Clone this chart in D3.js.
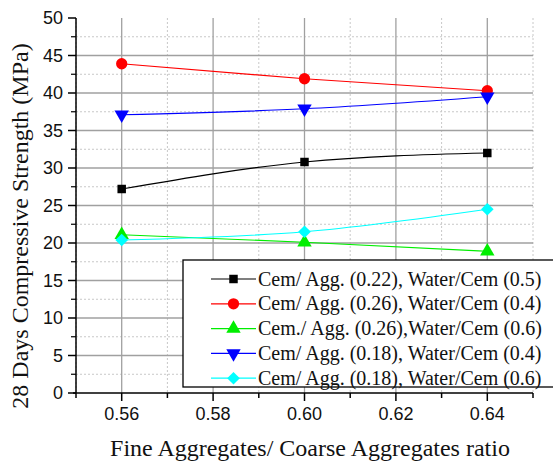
<!DOCTYPE html>
<html><head><meta charset="utf-8">
<script src="https://cdn.jsdelivr.net/npm/d3@7"></script>
<style>body{margin:0;background:#fff}svg{display:block}
.serif{font-family:"Liberation Serif","Times New Roman",serif}
.sans{font-family:"Liberation Sans",Arial,sans-serif}
</style>
</head><body>
<svg id="c" width="553" height="462"></svg>
<script>
const xValues = [0.56, 0.60, 0.64];
const seriesNames = [
  "Cem/ Agg. (0.22), Water/Cem (0.5)",
  "Cem/ Agg. (0.26), Water/Cem (0.4)",
  "Cem./ Agg. (0.26),Water/Cem (0.6)",
  "Cem/ Agg. (0.18), Water/Cem (0.4)",
  "Cem/ Agg. (0.18), Water/Cem (0.6)"
];
const blackVals = [27.2, 30.8, 32.0];
const redVals   = [43.9, 41.9, 40.3];
const greenVals = [21.1, 20.1, 18.9];
const blueVals  = [37.1, 37.9, 39.5];
const cyanVals  = [20.4, 21.5, 24.5];
const seriesColors = ["#000000", "#ff0000", "#00ee00", "#0000ff", "#00ffff"];
const seriesSymbols = ["square", "circle", "triUp", "triDown", "diamond"];
const xTicks = [0.56, 0.58, 0.60, 0.62, 0.64];
const yTicks = [0, 5, 10, 15, 20, 25, 30, 35, 40, 45, 50];

const allVals = [blackVals, redVals, greenVals, blueVals, cyanVals];
const svg = d3.select("#c");
const L = 76, R = 533, T = 18, B = 393;
const x = d3.scaleLinear().domain([0.55, 0.65]).range([L, R]);
const y = d3.scaleLinear().domain([0, 50]).range([B, T]);

// grid
const g = svg.append("g");
const minorX = d3.range(0.55, 0.6501, 0.01).filter(v => Math.abs(Math.round(v*100) % 2) === 1);
const minorY = d3.range(2.5, 50, 5);
g.selectAll(".mx").data(minorX).join("line")
  .attr("x1", d => x(d)).attr("x2", d => x(d)).attr("y1", T).attr("y2", B)
  .attr("stroke", "#c8c8c8").attr("stroke-dasharray", "2,2").attr("stroke-width", 1);
g.selectAll(".my").data(minorY).join("line")
  .attr("x1", L).attr("x2", R).attr("y1", d => y(d)).attr("y2", d => y(d))
  .attr("stroke", "#c8c8c8").attr("stroke-dasharray", "2,2").attr("stroke-width", 1);
g.selectAll(".gx").data(xTicks).join("line")
  .attr("x1", d => x(d)).attr("x2", d => x(d)).attr("y1", T).attr("y2", B)
  .attr("stroke", "#a0a0a0").attr("stroke-width", 1.3);
g.selectAll(".gy").data(yTicks.filter(v => v > 0 && v < 50)).join("line")
  .attr("x1", L).attr("x2", R).attr("y1", d => y(d)).attr("y2", d => y(d))
  .attr("stroke", "#a0a0a0").attr("stroke-width", 1.3);

// series lines
const line = d3.line().x(d => x(d[0])).y(d => y(d[1])).curve(d3.curveMonotoneX);
const sym = {
  square: d3.symbol().type(d3.symbolSquare).size(72),
  circle: d3.symbol().type(d3.symbolCircle).size(100),
  triUp: d3.symbol().type(d3.symbolTriangle).size(90),
  triDown: d3.symbol().type(d3.symbolTriangle).size(90),
  diamond: d3.symbol().type(d3.symbolSquare).size(80)
};
function drawMarker(sel, name, cx, cy, color) {
  const rot = name === "triDown" ? " rotate(180)" : name === "diamond" ? " rotate(45)" : "";
  sel.append("path").attr("d", sym[name]())
    .attr("transform", `translate(${cx},${cy})` + rot)
    .attr("fill", color);
}
allVals.forEach((vals, i) => {
  const pts = xValues.map((xv, j) => [xv, vals[j]]);
  svg.append("path").attr("d", line(pts)).attr("fill", "none")
    .attr("stroke", seriesColors[i]).attr("stroke-width", 1.2);
});
allVals.forEach((vals, i) => {
  xValues.forEach((xv, j) => drawMarker(svg, seriesSymbols[i], x(xv), y(vals[j]), seriesColors[i]));
});

// axes
const ax = svg.append("g").attr("class", "sans").attr("font-size", 18).attr("fill", "#111");
ax.append("line").attr("x1", L).attr("x2", L).attr("y1", T).attr("y2", B).attr("stroke", "#000").attr("stroke-width", 1.5);
ax.append("line").attr("x1", L - 3).attr("x2", R).attr("y1", B).attr("y2", B).attr("stroke", "#000").attr("stroke-width", 1.5);
yTicks.forEach(v => {
  ax.append("line").attr("x1", L - 8).attr("x2", L).attr("y1", y(v)).attr("y2", y(v)).attr("stroke", "#000").attr("stroke-width", 1.5);
  ax.append("text").attr("x", L - 13).attr("y", y(v)).attr("dy", "0.36em").attr("text-anchor", "end").text(v);
});
minorY.forEach(v => {
  ax.append("line").attr("x1", L - 5).attr("x2", L).attr("y1", y(v)).attr("y2", y(v)).attr("stroke", "#000").attr("stroke-width", 1.2);
});
d3.range(0.55, 0.6501, 0.01).forEach((v, i) => {
  const major = i % 2 === 1;
  ax.append("line").attr("x1", x(v)).attr("x2", x(v)).attr("y1", B).attr("y2", B + (major ? 8 : 5))
    .attr("stroke", "#000").attr("stroke-width", 1.5);
});
xTicks.forEach(v => {
  ax.append("text").attr("x", x(v)).attr("y", B + 27).attr("text-anchor", "middle").text(v.toFixed(2));
});

// axis titles
svg.append("text").attr("class", "serif").attr("x", 310).attr("y", 456).attr("text-anchor", "middle")
  .attr("font-size", 24).attr("fill", "#111")
  .text("Fine Aggregates/ Coarse Aggregates ratio");
svg.append("text").attr("class", "serif").attr("transform", "translate(28,226) rotate(-90)").attr("text-anchor", "middle")
  .attr("font-size", 24).attr("fill", "#111")
  .text("28 Days Compressive Strength (MPa)");

// legend
const lg = svg.append("g");
lg.append("rect").attr("x", 183).attr("y", 260).attr("width", 400).attr("height", 127)
  .attr("fill", "#fff").attr("stroke", "#000").attr("stroke-width", 1.3);
seriesNames.forEach((nm, i) => {
  const cy = 279 + i * 24.8;
  lg.append("line").attr("x1", 211).attr("x2", 256).attr("y1", cy).attr("y2", cy)
    .attr("stroke", seriesColors[i]).attr("stroke-width", 1.2);
  drawMarker(lg, seriesSymbols[i], 233.5, cy, seriesColors[i]);
  lg.append("text").attr("class", "serif").attr("x", 258).attr("y", cy).attr("dy", "0.33em")
    .attr("font-size", 20).attr("fill", "#111").text(nm);
});
</script>
</body></html>
